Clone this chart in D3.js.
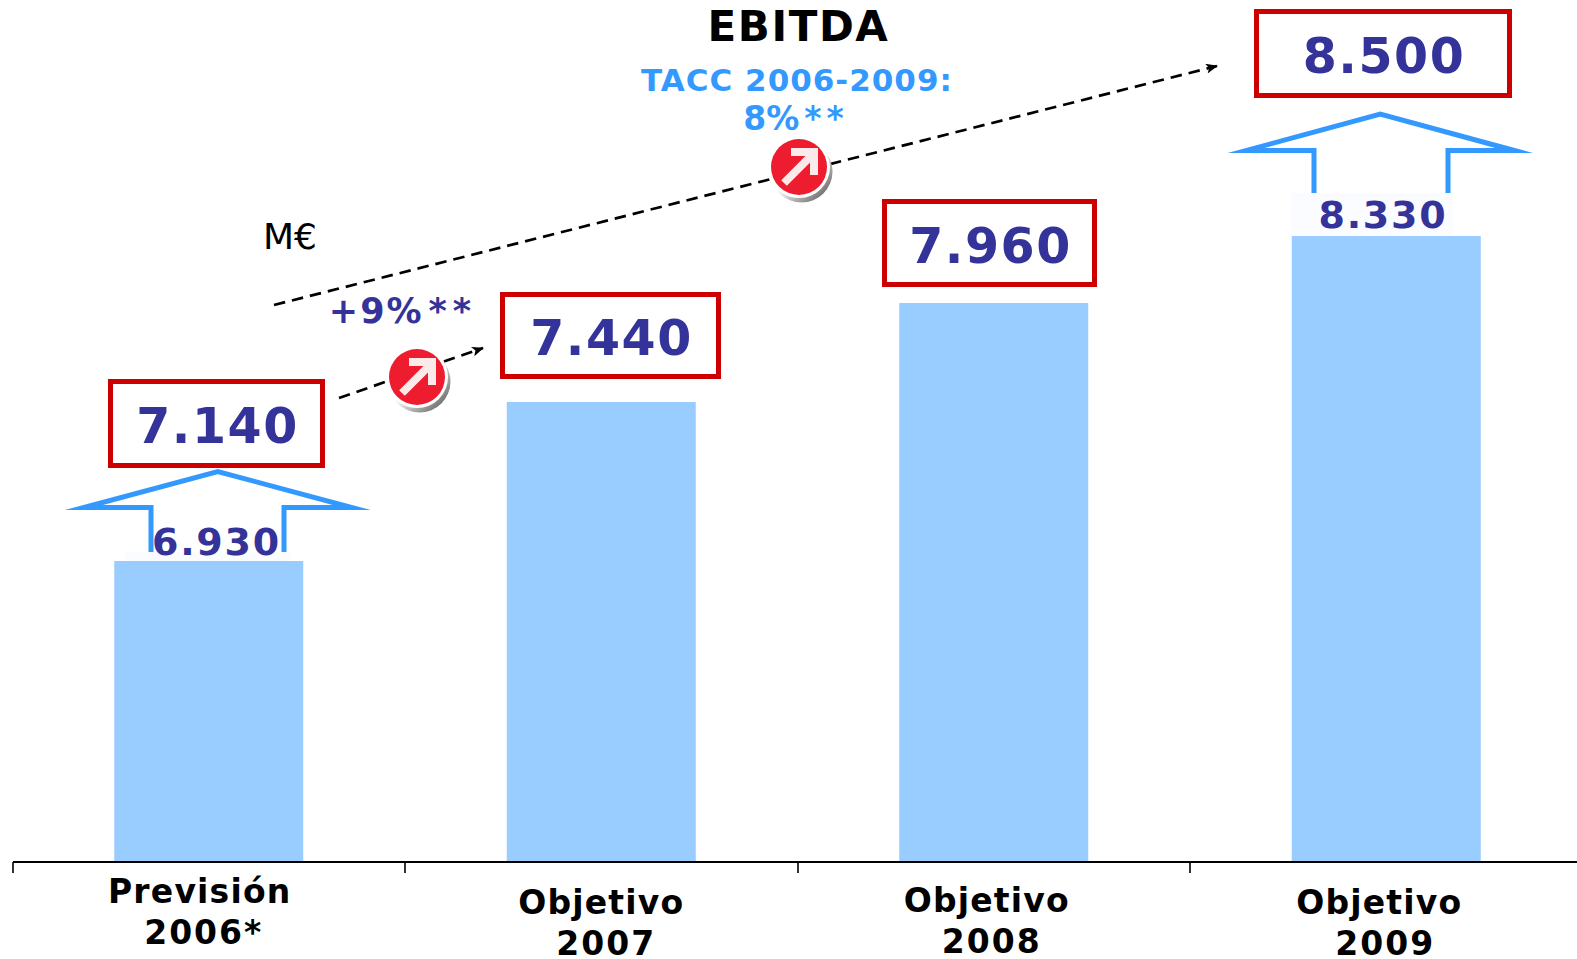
<!DOCTYPE html>
<html><head><meta charset="utf-8">
<script src="https://cdn.jsdelivr.net/npm/d3@7/dist/d3.min.js"></script>
<style>html,body{margin:0;padding:0;background:#fff;overflow:hidden}svg{display:block}
text{font-family:"DejaVu Sans",Verdana,sans-serif;font-weight:700}</style></head><body>
<svg id="c" width="1577" height="959"></svg>
<script>
// ---- data ----
const categories = ["Previsión 2006*", "Objetivo 2007", "Objetivo 2008", "Objetivo 2009"];
const categoryLine1 = ["Previsión", "Objetivo", "Objetivo", "Objetivo"];
const categoryLine2 = ["2006*", "2007", "2008", "2009"];
const barValues = [6930, 7440, 7960, 8330];
const targetValues = [7140, 7440, 7960, 8500];
const barLabels = ["6.930", null, null, "8.330"];
const targetLabels = ["7.140", "7.440", "7.960", "8.500"];
const titleText = "EBITDA";
const unitText = "M€";
const cagrLines = ["TACC 2006-2009:", "8%", "**"];
const growthParts = ["+9%", "**"];
// The source bars are not proportional: the scale is piecewise, fitted to the printed values.
const scaleDomain = [5965, 6930, 7440, 7960, 8330];

// ---- layout ----
const W = 1577, H = 959, base = 862;
const svg = d3.select("#c");
const x = d3.scaleBand().domain(categories).range([12.5, 1582.5]);
const y = d3.scaleLinear().domain(scaleDomain).range([base, 561, 402, 303, 236]);
const barW = 189;
const navy = "#333399", sky = "#3399ff", red = "#cc0000", barCol = "#99ccff";

const defs = svg.append("defs");
defs.append("marker").attr("id","ah").attr("markerUnits","userSpaceOnUse")
  .attr("viewBox","0 0 12 10").attr("refX",11).attr("refY",5)
  .attr("markerWidth",12).attr("markerHeight",10).attr("orient","auto")
  .append("path").attr("d","M0,0L12,5L0,10L3,5Z").attr("fill","#000");
const sh = defs.append("linearGradient").attr("id","sh").attr("x1",0).attr("y1",0).attr("x2",1).attr("y2",1);
sh.append("stop").attr("offset","45%").attr("stop-color","#fff");
sh.append("stop").attr("offset","85%").attr("stop-color","#777");

// white plates behind the small labels
svg.append("rect").attr("x",1291).attr("y",193).attr("width",162).attr("height",43).attr("fill","#fbfcff");
svg.append("rect").attr("x",126).attr("y",552).attr("width",164).attr("height",9).attr("fill","#fbfcff");

// bars
svg.selectAll("rect.bar").data(categories).join("rect").attr("class","bar")
  .attr("x", d => x(d) + x.bandwidth()/2 - barW/2)
  .attr("y", (d,i) => y(barValues[i]))
  .attr("width", barW)
  .attr("height", (d,i) => base - y(barValues[i]))
  .attr("fill", barCol);

// axis
const axis = svg.append("g");
axis.append("line").attr("x1",13).attr("x2",W).attr("y1",base).attr("y2",base).attr("stroke","#000").attr("stroke-width",2);
axis.selectAll("line.t").data(categories).join("line").attr("class","t")
  .attr("x1", d => Math.round(x(d))).attr("x2", d => Math.round(x(d)))
  .attr("y1", base).attr("y2", 873).attr("stroke","#000").attr("stroke-width",1.6);

// category labels
const lab1 = [[-9,903],[0,914],[-7,912],[-7,914]];
const lab2 = [[-5,944],[5,955],[-2,953],[-1,955]];
categories.forEach((c,i)=>{
  const cx = x(c)+x.bandwidth()/2;
  svg.append("text").attr("x",cx+lab1[i][0]).attr("y",lab1[i][1]).attr("text-anchor","middle")
    .attr("font-size",33).attr("letter-spacing",1.2).text(categoryLine1[i]);
  svg.append("text").attr("x",cx+lab2[i][0]).attr("y",lab2[i][1]).attr("text-anchor","middle")
    .attr("font-size",33).attr("letter-spacing",2).text(categoryLine2[i]);
});

// up arrows (only where forecast was raised)
const upArrow = [
 {i:0,dx:9,top:471.5,wing:507.5,half:134,sL:151,sR:284,bot:552},
 {i:3,dx:-6,top:114,wing:150.5,half:134,sL:1314,sR:1448,bot:193}];
upArrow.forEach(a=>{
  const cx = x(categories[a.i])+x.bandwidth()/2+a.dx;
  const p = d3.path();
  p.moveTo(a.sL,a.bot); p.lineTo(a.sL,a.wing); p.lineTo(cx-a.half,a.wing); p.lineTo(cx,a.top);
  p.lineTo(cx+a.half,a.wing); p.lineTo(a.sR,a.wing); p.lineTo(a.sR,a.bot);
  svg.append("path").attr("d",p.toString()).attr("fill","none").attr("stroke",sky)
    .attr("stroke-width",5).attr("stroke-linejoin","miter").attr("stroke-miterlimit",12);
});

// bar value labels
const barLabelPos = [[216.5,555],null,null,[1383,228]];
barLabels.forEach((t,i)=>{ if(!t) return;
  svg.append("text").attr("x",barLabelPos[i][0]).attr("y",barLabelPos[i][1]).attr("text-anchor","middle")
   .attr("font-size",38).attr("letter-spacing",1.8).attr("fill",navy).text(t);
});

// target boxes
const boxes = [[110.5,381.5,212,84],[502.5,294.5,216,82],[884.5,201.5,210,83],[1256.5,11.5,253,84]];
targetValues.forEach((v,i)=>{
  const b = boxes[i];
  svg.append("rect").attr("x",b[0]).attr("y",b[1]).attr("width",b[2]).attr("height",b[3])
    .attr("fill","#fff").attr("stroke",red).attr("stroke-width",5);
  svg.append("text").attr("x",b[0]+b[2]/2+1).attr("y",b[1]+b[3]/2+19.5).attr("text-anchor","middle")
    .attr("font-size",49).attr("letter-spacing",1.5).attr("fill",navy).text(targetLabels[i]);
});

// dashed trend arrows
[[274,305,1217,66],[339,398,483,348]].forEach(l=>{
  svg.append("line").attr("x1",l[0]).attr("y1",l[1]).attr("x2",l[2]).attr("y2",l[3])
   .attr("stroke","#000").attr("stroke-width",2.7).attr("stroke-dasharray","11.5 7").attr("marker-end","url(#ah)");
});

// badges
[[417,377],[799,167]].forEach(b=>{
  const g = svg.append("g").attr("transform",`translate(${b[0]},${b[1]})`);
  g.append("circle").attr("cx",2.5).attr("cy",4.5).attr("r",31).attr("fill","url(#sh)");
  g.append("circle").attr("cx",0).attr("cy",0).attr("r",31).attr("fill","#fff");
  g.append("circle").attr("r",28).attr("fill","#ed1c2e");
  g.append("path").attr("d","M-15,16L13,-12M-8,-15L15,-15L15,8").attr("fill","none")
    .attr("stroke","#fbeaea").attr("stroke-width",8);
});

// texts
svg.append("text").attr("x",798.5).attr("y",41).attr("text-anchor","middle").attr("font-size",42)
  .attr("letter-spacing",1.6).attr("fill","#000").text(titleText);
svg.append("text").attr("x",797).attr("y",91).attr("text-anchor","middle").attr("font-size",31)
  .attr("letter-spacing",1).attr("fill",sky).text(cagrLines[0]);
const cg = svg.append("text").attr("x",796).attr("y",130).attr("text-anchor","middle").attr("font-size",33)
  .attr("fill",sky);
cg.append("tspan").text(cagrLines[1]);
cg.append("tspan").attr("dx",5).attr("letter-spacing",5).text(cagrLines[2]);
const gt = svg.append("text").attr("x",403).attr("y",323).attr("text-anchor","middle").attr("font-size",35)
  .attr("letter-spacing",2).attr("fill",navy);
gt.append("tspan").text(growthParts[0]);
gt.append("tspan").attr("dx",5).attr("letter-spacing",6).text(growthParts[1]);
svg.append("text").attr("x",263).attr("y",249).attr("font-size",36).style("font-weight",400)
  .attr("fill","#000").text(unitText);
</script></body></html>
